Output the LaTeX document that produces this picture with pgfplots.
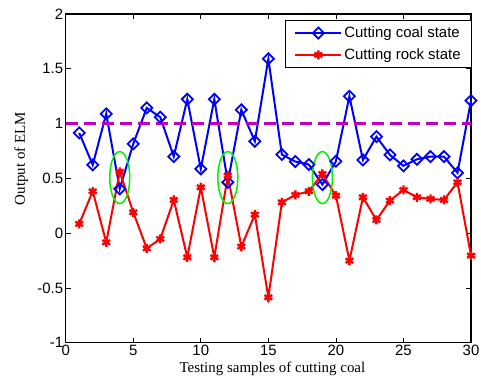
\documentclass[border=0pt]{standalone}
\usepackage{fontspec}
\setmainfont{Liberation Serif}
\newfontfamily\arial{Liberation Sans}
\usepackage{pgfplots}
\pgfplotsset{compat=1.18}
\usetikzlibrary{calc}

\definecolor{coal}{rgb}{0,0,1}
\definecolor{rock}{rgb}{1,0,0}
\definecolor{thresh}{rgb}{0.75,0,0.75}
\definecolor{hilite}{rgb}{0,0.95,0}

\begin{document}
\begin{tikzpicture}
\useasboundingbox (0,0) rectangle (481bp,376bp);
\begin{axis}[
  at={(65.7bp,33.3bp)}, anchor=south west,
  scale only axis, width=405.3bp, height=328.7bp,
  xmin=0, xmax=30, ymin=-1, ymax=2,
  xtick={0,5,...,30}, ytick={-1,-0.5,...,2},
  xticklabels={0,5,10,15,20,25,30},
  yticklabels={-1,-0.5,0,0.5,1,1.5,2},
  tick align=inside, xtick pos=both, ytick pos=both,
  major tick length=5bp,
  axis line style={line width=1.2bp},
  every tick/.style={black, line width=0.8bp},
  tick label style={font=\arial\fontsize{15}{15}\selectfont},
  xticklabel style={yshift=1bp},
  yticklabel style={xshift=1bp},
  xlabel={Testing samples of cutting coal},
  ylabel={Output of ELM},
  label style={font=\fontsize{15}{15}\selectfont},
  xlabel style={at={(axis description cs:0.51,0)}, anchor=base, yshift=-29.5bp},
  ylabel style={at={($(axis description cs:0,0.56)+(-40.7bp,0)$)}, anchor=base},
  legend style={at={(rel axis cs:1,1)}, anchor=north east, xshift=1bp, yshift=-6bp,
    font=\arial\fontsize{15}{15}\selectfont, draw=black, line width=0.8bp,
    inner xsep=9bp, inner ysep=4.5bp, row sep=5.5bp},
  legend cell align=left,
  legend image code/.code={\draw[#1, mark repeat=2, mark phase=2]
    plot coordinates {(0bp,0bp) (23bp,0bp) (46bp,0bp)};},
  clip=false,
]
% ELM output for coal samples
\addplot[coal, line width=2bp, mark=square, mark size=3.9bp,
  mark options={rotate=45, solid, line width=1.8bp}] coordinates {
  (1,0.915) (2,0.623) (3,1.089) (4,0.404) (5,0.815) (6,1.143) (7,1.058)
  (8,0.699) (9,1.222) (10,0.586) (11,1.222) (12,0.464) (13,1.125) (14,0.838)
  (15,1.591) (16,0.717) (17,0.653) (18,0.626) (19,0.443) (20,0.656)
  (21,1.249) (22,0.668) (23,0.881) (24,0.714) (25,0.614) (26,0.674)
  (27,0.699) (28,0.699) (29,0.550) (30,1.210)};
\addlegendentry{Cutting coal state}
% ELM output for rock samples
\addplot[rock, line width=2bp, mark=asterisk, mark size=4.5bp,
  mark options={solid, line width=2.4bp}] coordinates {
  (1,0.084) (2,0.382) (3,-0.084) (4,0.560) (5,0.190) (6,-0.139) (7,-0.053)
  (8,0.303) (9,-0.221) (10,0.418) (11,-0.221) (12,0.525) (13,-0.123)
  (14,0.169) (15,-0.586) (16,0.281) (17,0.349) (18,0.382) (19,0.540)
  (20,0.342) (21,-0.251) (22,0.327) (23,0.120) (24,0.297) (25,0.394)
  (26,0.327) (27,0.312) (28,0.303) (29,0.464) (30,-0.205)};
\addlegendentry{Cutting rock state}
% decision threshold
\addplot[thresh, line width=3.8bp, dash pattern=on 12bp off 6bp, forget plot]
  coordinates {(0,1) (30,1)};
% misclassified samples
\draw[hilite, line width=1.5bp] (axis cs:4,0.507) ellipse [x radius=10bp, y radius=26bp];
\draw[hilite, line width=1.5bp] (axis cs:12,0.507) ellipse [x radius=10bp, y radius=26bp];
\draw[hilite, line width=1.5bp] (axis cs:19,0.507) ellipse [x radius=10bp, y radius=26bp];
\end{axis}
\end{tikzpicture}
\end{document}
